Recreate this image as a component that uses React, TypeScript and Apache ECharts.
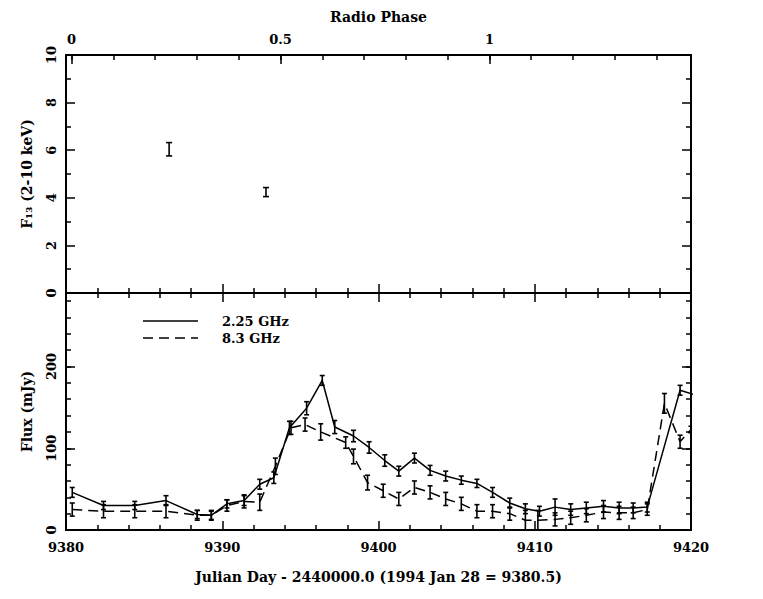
import React, { useEffect, useRef } from "react";
import * as echarts from "echarts";

// ---- data ----
const xrayDay = [9386.6, 9392.8];
const xrayFlux = [6.04, 4.24];
const xrayErr = [0.28, 0.19];

const day225 = [9380.4, 9382.4, 9384.4, 9386.4, 9388.4, 9389.3, 9390.3, 9391.4, 9392.4, 9393.3, 9394.3, 9395.4, 9396.4, 9397.2, 9398.4, 9399.4, 9400.4, 9401.3, 9402.3, 9403.3, 9404.3, 9405.3, 9406.3, 9407.3, 9408.4, 9409.4, 9410.3, 9411.3, 9412.3, 9413.3, 9414.4, 9415.4, 9416.3, 9417.2, 9419.3, 9420.3];
const flux225 = [46, 30, 30, 36, 19, 18, 32, 36, 56, 64, 125, 149, 183, 126, 115, 101, 85, 72, 88, 73, 66, 61, 57, 46, 33, 26, 23, 28, 25, 27, 29, 27, 27, 28, 171, 165];
const err225 = [6, 5, 5, 6, 5, 5, 5, 6, 6, 7, 8, 8, 6, 8, 7, 7, 7, 6, 6, 6, 6, 5, 5, 6, 6, 6, 6, 10, 7, 7, 7, 7, 6, 6, 6, 6];

const day83 = [9380.4, 9382.4, 9384.4, 9386.4, 9388.4, 9389.3, 9390.3, 9391.4, 9392.4, 9393.4, 9394.4, 9395.3, 9396.3, 9397.9, 9398.4, 9399.3, 9400.3, 9401.3, 9402.3, 9403.3, 9404.3, 9405.3, 9406.3, 9407.3, 9408.4, 9409.4, 9410.2, 9411.3, 9412.3, 9413.3, 9414.4, 9415.4, 9416.3, 9417.2, 9418.3, 9419.3, 9420.0];
const flux83 = [25, 23, 23, 23, 18, 18, 30, 35, 34, 78, 125, 129, 120, 107, 90, 58, 48, 38, 52, 46, 38, 32, 23, 23, 20, 12, 12, 13, 15, 18, 22, 21, 21, 25, 155, 108, 123];
const err83 = [8, 8, 8, 8, 6, 6, 7, 8, 10, 10, 8, 8, 10, 7, 9, 9, 8, 8, 8, 8, 8, 8, 8, 8, 8, 12, 12, 8, 8, 8, 8, 8, 7, 7, 12, 8, 4];

const phaseTicks = [0, 0.1, 0.2, 0.3, 0.4, 0.5, 0.6, 0.7, 0.8, 0.9, 1, 1.1, 1.2, 1.3, 1.4];
const phaseLabels = [0, 0.5, 1];

const DAY_MIN = 9380;
const DAY_MAX = 9420;
const PHASE_ZERO_DAY = 9380.35;
const PERIOD = 26.75;
const FLUX_MAX = 290;

const phaseOf = (d: number) => (d - PHASE_ZERO_DAY) / PERIOD;

const FONT = "DejaVu Serif";
const BLACK = "#000";

function errorBars(capHalf: number) {
  return (params: any, api: any) => {
    const x = api.value(0);
    const y = api.value(1);
    const e = api.value(2);
    const top = api.coord([x, y + e]);
    const bot = api.coord([x, y - e]);
    const style = { stroke: BLACK, lineWidth: 1.6, fill: null };
    return {
      type: "group",
      children: [
        { type: "line", shape: { x1: top[0], y1: top[1], x2: bot[0], y2: bot[1] }, style },
        { type: "line", shape: { x1: top[0] - capHalf, y1: top[1], x2: top[0] + capHalf, y2: top[1] }, style },
        { type: "line", shape: { x1: bot[0] - capHalf, y1: bot[1], x2: bot[0] + capHalf, y2: bot[1] }, style },
      ],
    };
  };
}

const axisLine = { show: true, onZero: false, lineStyle: { color: BLACK, width: 2 } };
const majorTick = { show: true, inside: true, length: 9, lineStyle: { color: BLACK, width: 1.5 } };
const minorTick = { show: true, length: 5, lineStyle: { color: BLACK, width: 1.5 } };
const labelStyle = { color: BLACK, fontFamily: FONT, fontSize: 13, fontWeight: "bold" as const };
const nameStyle = { color: BLACK, fontFamily: FONT, fontSize: 14, fontWeight: "bold" as const };

function dayAxis(gridIndex: number, position: "top" | "bottom", withLabels: boolean, name?: string) {
  return {
    type: "value",
    gridIndex,
    position,
    min: DAY_MIN,
    max: DAY_MAX,
    interval: 10,
    axisLine,
    axisTick: majorTick,
    minorTick: { ...minorTick, splitNumber: 5 },
    splitLine: { show: false },
    minorSplitLine: { show: false },
    axisLabel: withLabels ? { ...labelStyle, margin: 11, formatter: (v: number) => String(v) } : { show: false },
    name: name || "",
    nameLocation: "middle",
    nameGap: 40,
    nameTextStyle: nameStyle,
  };
}

function fluxAxis(position: "left" | "right", interval: number, tickLen: number, withLabels: boolean, name?: string) {
  return {
    type: "value",
    gridIndex: 1,
    position,
    min: 0,
    max: FLUX_MAX,
    interval,
    axisLine,
    axisTick: { show: true, inside: true, length: tickLen, lineStyle: { color: BLACK, width: 1.5 } },
    splitLine: { show: false },
    axisLabel: withLabels
      ? { ...labelStyle, rotate: 90, margin: 8, formatter: (v: number) => (v % 100 === 0 ? String(v) : "") }
      : { show: false },
    name: name || "",
    nameLocation: "middle",
    nameGap: 32,
    nameTextStyle: nameStyle,
  };
}

export default function App() {
  const ref = useRef<HTMLDivElement>(null);

  useEffect(() => {
    if (!ref.current) return;
    const chart = echarts.init(ref.current, undefined, { renderer: "svg" });

    const xrayData = xrayDay.map((d, i) => [d, xrayFlux[i], xrayErr[i]]);
    const data225 = day225.map((d, i) => [d, flux225[i], err225[i]]);
    const data83 = day83.map((d, i) => [d, flux83[i], err83[i]]);

    const option: any = {
      animation: false,
      backgroundColor: "#fff",
      grid: [
        { left: 66, top: 55, width: 625, height: 238, containLabel: false },
        { left: 66, top: 293, width: 625, height: 237, containLabel: false },
      ],
      xAxis: [
        dayAxis(0, "bottom", false),
        {
          type: "value",
          gridIndex: 0,
          position: "top",
          min: phaseOf(DAY_MIN),
          max: phaseOf(DAY_MAX),
          axisLine,
          axisTick: { ...majorTick, customValues: phaseLabels },
          splitLine: { show: false },
          axisLabel: { ...labelStyle, margin: 9, customValues: phaseLabels, formatter: (v: number) => String(v) },
          name: "Radio Phase",
          nameLocation: "middle",
          nameGap: 31,
          nameTextStyle: nameStyle,
        },
        {
          type: "value",
          gridIndex: 0,
          position: "top",
          min: phaseOf(DAY_MIN),
          max: phaseOf(DAY_MAX),
          axisLine,
          axisTick: { show: true, inside: true, length: 5, customValues: phaseTicks, lineStyle: { color: BLACK, width: 1.5 } },
          splitLine: { show: false },
          axisLabel: { show: false },
        },
        dayAxis(1, "bottom", true, "Julian Day - 2440000.0 (1994 Jan 28 = 9380.5)"),
        dayAxis(1, "top", false),
      ],
      yAxis: [
        {
          type: "value",
          gridIndex: 0,
          position: "left",
          min: 0,
          max: 10,
          interval: 2,
          axisLine,
          axisTick: majorTick,
          minorTick: { ...minorTick, splitNumber: 2 },
          splitLine: { show: false },
          minorSplitLine: { show: false },
          axisLabel: { ...labelStyle, rotate: 90, margin: 8 },
          name: "F₁₃ (2-10 keV)",
          nameLocation: "middle",
          nameGap: 32,
          nameTextStyle: nameStyle,
        },
        {
          type: "value",
          gridIndex: 0,
          position: "right",
          min: 0,
          max: 10,
          interval: 2,
          axisLine,
          axisTick: majorTick,
          minorTick: { ...minorTick, splitNumber: 2 },
          splitLine: { show: false },
          minorSplitLine: { show: false },
          axisLabel: { show: false },
        },
        fluxAxis("left", 100, 9, true, "Flux (mJy)"),
        fluxAxis("left", 20, 5, false),
        fluxAxis("right", 100, 9, false),
        fluxAxis("right", 20, 5, false),
      ],
      series: [
        {
          type: "custom",
          name: "X-ray",
          xAxisIndex: 0,
          yAxisIndex: 0,
          clip: true,
          renderItem: errorBars(3),
          data: xrayData,
        },
        {
          type: "line",
          name: "2.25 GHz",
          xAxisIndex: 3,
          yAxisIndex: 2,
          showSymbol: false,
          symbol: "none",
          clip: true,
          lineStyle: { color: BLACK, width: 1.5 },
          data: data225.map((p) => [p[0], p[1]]),
        },
        {
          type: "custom",
          xAxisIndex: 3,
          yAxisIndex: 2,
          clip: true,
          renderItem: errorBars(2.5),
          data: data225,
        },
        {
          type: "line",
          name: "8.3 GHz",
          xAxisIndex: 3,
          yAxisIndex: 2,
          showSymbol: false,
          symbol: "none",
          clip: true,
          lineStyle: { color: BLACK, width: 1.5, type: [10, 6] },
          data: data83.map((p) => [p[0], p[1]]),
        },
        {
          type: "custom",
          xAxisIndex: 3,
          yAxisIndex: 2,
          clip: true,
          renderItem: errorBars(2.5),
          data: data83,
        },
      ],
      graphic: [
        { type: "line", shape: { x1: 143, y1: 321, x2: 198, y2: 321 }, style: { stroke: BLACK, lineWidth: 1.5 } },
        { type: "text", x: 222, y: 321, style: { text: "2.25 GHz", fill: BLACK, font: `bold 13px '${FONT}'`, verticalAlign: "middle" } },
        { type: "line", shape: { x1: 143, y1: 338, x2: 198, y2: 338 }, style: { stroke: BLACK, lineWidth: 1.5, lineDash: [10, 6] } },
        { type: "text", x: 222, y: 338, style: { text: "8.3 GHz", fill: BLACK, font: `bold 13px '${FONT}'`, verticalAlign: "middle" } },
      ],
    };

    chart.setOption(option);
    return () => chart.dispose();
  }, []);

  return (
    <div
      ref={ref}
      style={{ position: "fixed", left: 0, top: 0, width: 763, height: 599, background: "#fff" }}
    />
  );
}
